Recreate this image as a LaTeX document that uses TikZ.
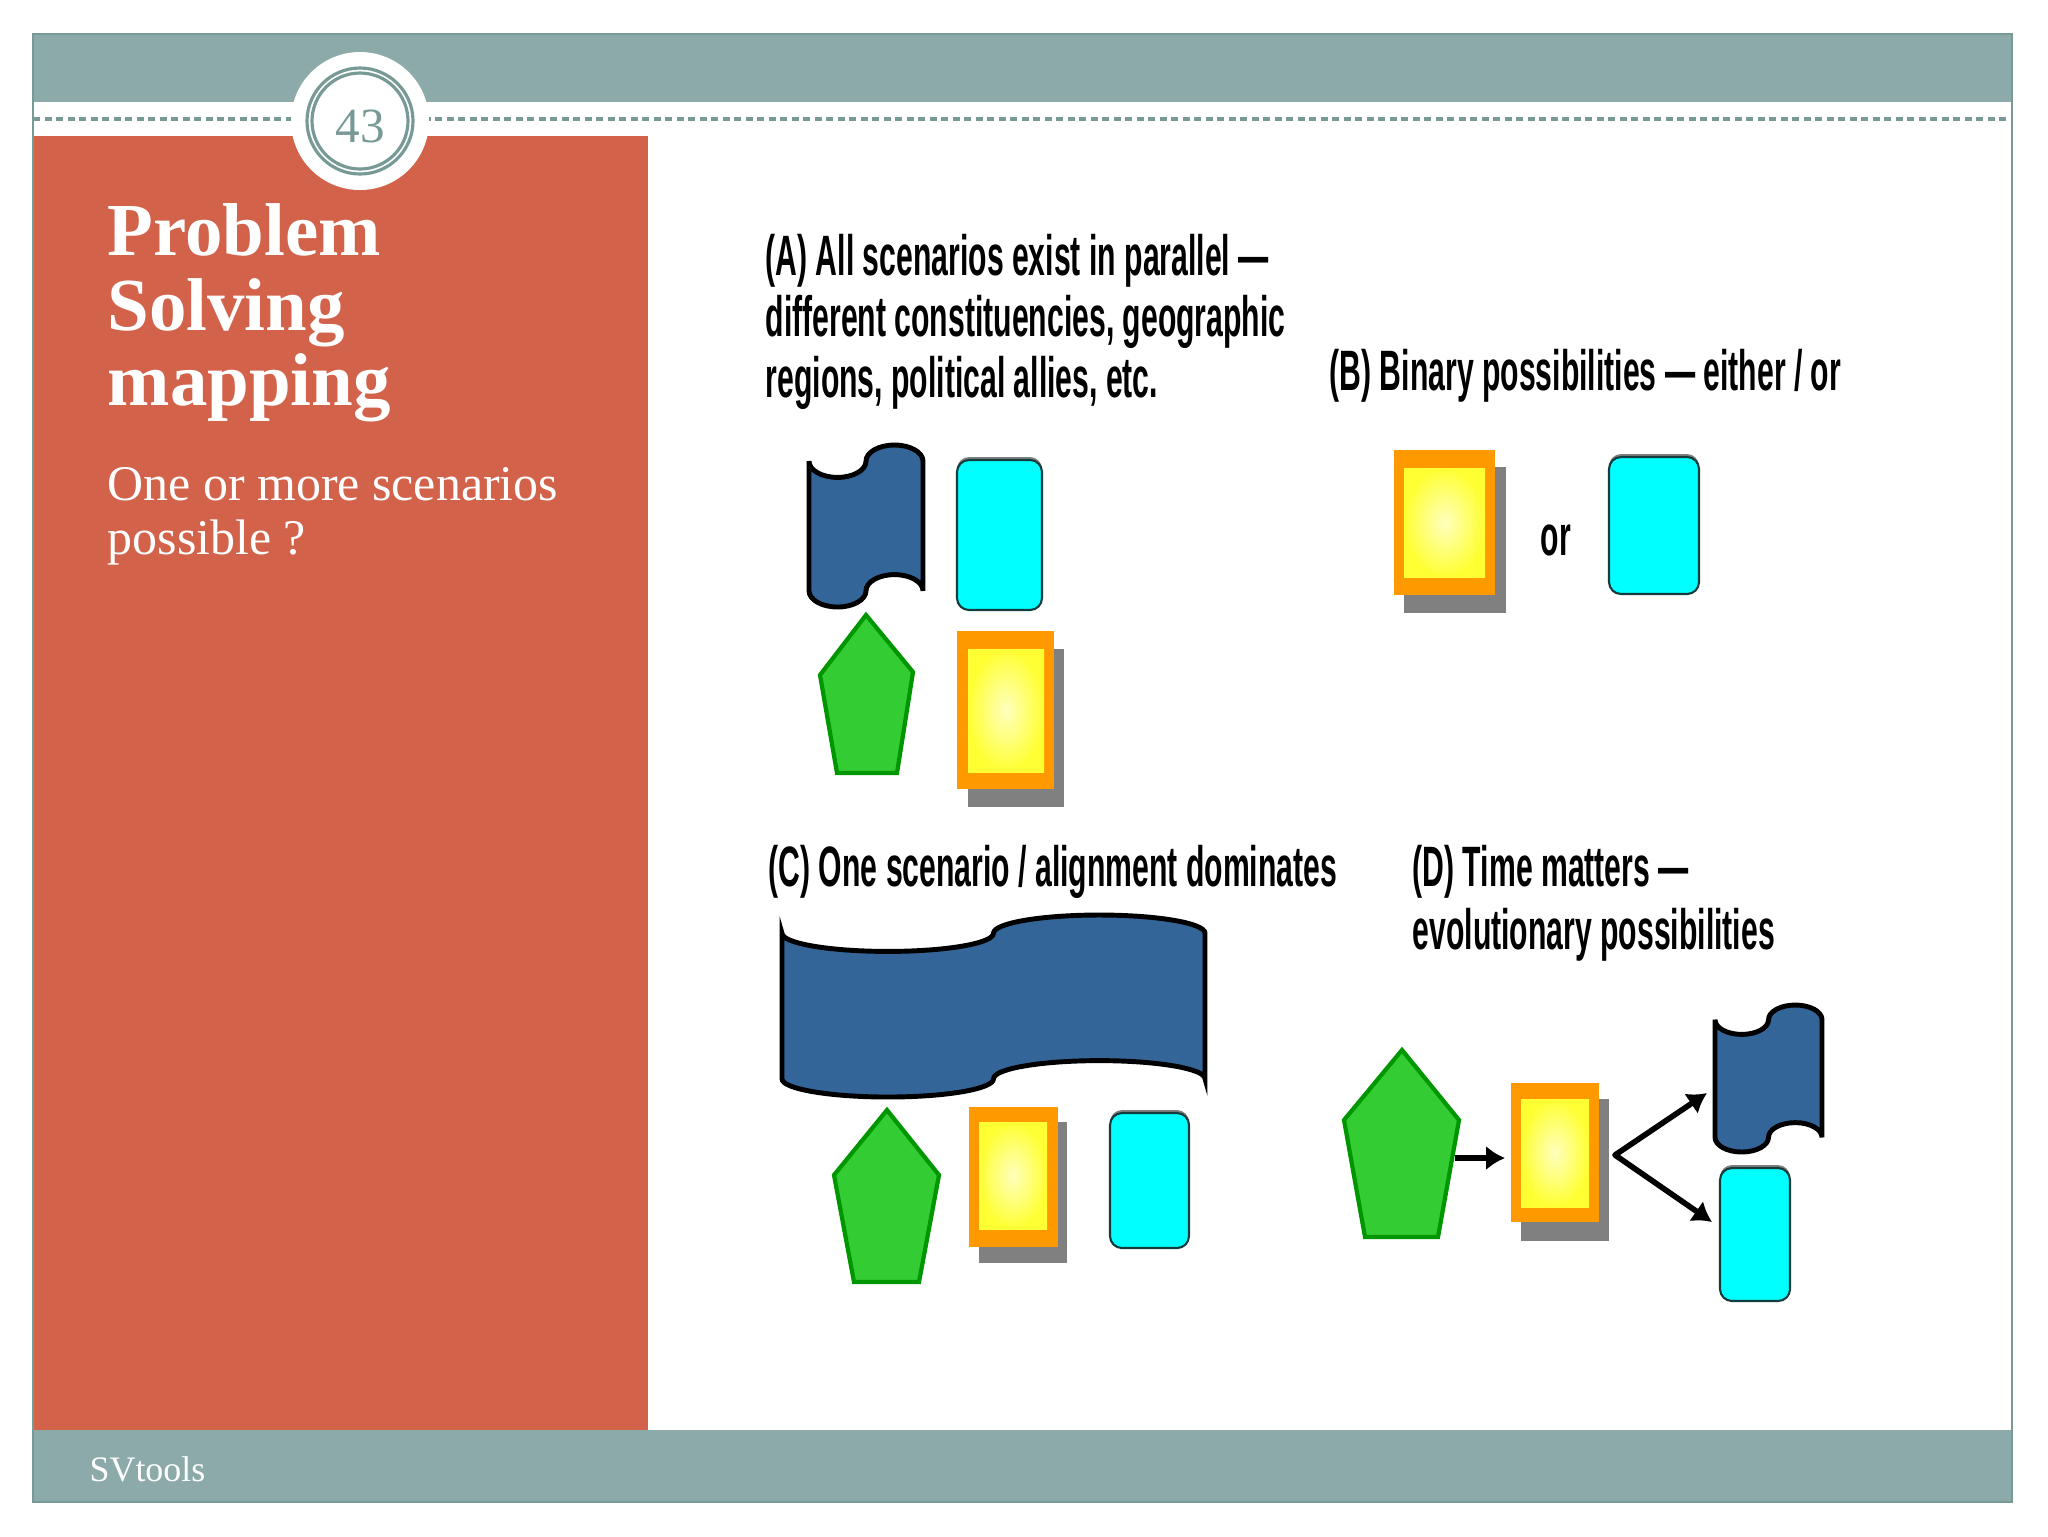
\documentclass[tikz,border=0pt]{standalone}
\RequirePackage{fontspec}
\RequirePackage{tikz}
\usetikzlibrary{calc}
\usetikzlibrary{arrows.meta}

\setmainfont{Liberation Serif}
\newfontfamily\figfont[FakeStretch=0.53]{Liberation Sans}

\definecolor{bandteal}{RGB}{141,170,170}
\definecolor{frameteal}{RGB}{120,154,151}
\definecolor{panelred}{RGB}{211,98,74}
\definecolor{flagblue}{RGB}{52,101,153}
\definecolor{tilecyan}{RGB}{0,255,255}
\definecolor{tileedge}{RGB}{20,60,60}
\definecolor{boxorange}{RGB}{255,153,0}
\definecolor{boxyellow}{RGB}{255,255,51}
\definecolor{boxlight}{RGB}{255,255,190}
\definecolor{pentgreen}{RGB}{51,204,51}
\definecolor{pentedge}{RGB}{0,150,0}
\definecolor{shadowgray}{RGB}{128,128,128}

\begin{document}
\begin{tikzpicture}[x=0.1mm,y=-0.1mm,
        frameline/.style={draw=frameteal,line width=0.6pt},
        dashline/.style={draw=frameteal,line width=1pt,dash pattern=on 0.7mm off 0.45mm},
        ring/.style={draw=frameteal,line width=0.9pt},
        title/.style={anchor=base west,inner sep=0pt,text=white,font=\bfseries\fontsize{21.3}{24}\selectfont},
        subtitle/.style={anchor=base west,inner sep=0pt,text=white,font=\fontsize{14.2}{17}\selectfont},
        caption/.style={anchor=base west,inner sep=0pt,font=\figfont\bfseries\fontsize{16.2}{18}\selectfont},
        flag/.style={draw=black,line width=1.4pt,fill=flagblue},
        tile/.style={draw=tileedge,line width=0.6pt,fill=tilecyan,rounded corners=1.2mm},
        tileshadow/.style={fill=shadowgray,rounded corners=1.2mm},
        pent/.style={draw=pentedge,line width=1.2pt,fill=pentgreen,line join=miter},
        boxshadow/.style={fill=shadowgray},
        boxframe/.style={fill=boxorange},
        boxcore/.style={inner color=boxlight,outer color=boxyellow},
        arr/.style={draw=black,line width=1.6pt,line join=round}]

                \useasboundingbox (0,0) rectangle (2048,1536);
                \fill[white] (0,0) rectangle (2048,1536);

                \fill[bandteal] (33,34) rectangle (2012,102);
                \fill[panelred] (33,136) rectangle (648,1430);
                \fill[bandteal] (33,1430) rectangle (2012,1502);
                \draw[frameline] (33,34) rectangle (2012,1502);
                \draw[dashline] (33,119) -- (2012,119);

                \fill[white] (360,121) circle (6.9mm);
                \draw[ring] (360,121) circle (5.3mm);
                \draw[ring] (360,121) circle (4.8mm);
                \node[text=frameteal,font=\fontsize{14}{16}\selectfont] (num) at (360,126) {43};

                \node[title] (T1) at (107,255) {Problem};
                \node[title] (T2) at (107,330) {Solving};
                \node[title] (T3) at (107,405) {mapping};
                \node[subtitle] (S1) at (107,500) {One or more scenarios};
                \node[subtitle] (S2) at (107,554) {possible ?};
                \node[anchor=base west,inner sep=0pt,text=white,font=\fontsize{10.2}{12}\selectfont] (foot) at (89,1481) {SVtools};

                \node[caption] (A1) at (765,275) {(A) All scenarios exist in parallel —};
                \node[caption] (A2) at (765,336) {different constituencies, geographic};
                \node[caption] (A3) at (765,397) {regions, political allies, etc.};
                \node[caption] (B1) at (1329,390) {(B) Binary possibilities — either / or};
                \node[caption] (C1) at (768,886) {(C) One scenario / alignment dominates};
                \node[caption] (D1) at (1412,886) {(D) Time matters —};
                \node[caption] (D2) at (1412,949) {evolutionary possibilities};
                \node[caption] (or) at (1540,555) {or};

                \draw[flag] (809,461.2) arc[start angle=180,end angle=0,x radius=28.5,y radius=16.2]
                    arc[start angle=180,end angle=360,x radius=28.5,y radius=16.2] -- (923,590.8)
                    arc[start angle=0,end angle=-180,x radius=28.5,y radius=16.2]
                    arc[start angle=0,end angle=180,x radius=28.5,y radius=16.2] -- cycle;
                \draw[flag] (782,933.2) arc[start angle=180,end angle=0,x radius=105.75,y radius=18.2]
                    arc[start angle=180,end angle=360,x radius=105.75,y radius=18.2] -- (1205,1078.8)
                    arc[start angle=0,end angle=-180,x radius=105.75,y radius=18.2]
                    arc[start angle=0,end angle=180,x radius=105.75,y radius=18.2] -- cycle;
                \draw[flag] (1715,1019.7) arc[start angle=180,end angle=0,x radius=26.75,y radius=14.7]
                    arc[start angle=180,end angle=360,x radius=26.75,y radius=14.7] -- (1822,1137.3)
                    arc[start angle=0,end angle=-180,x radius=26.75,y radius=14.7]
                    arc[start angle=0,end angle=180,x radius=26.75,y radius=14.7] -- cycle;

                \fill[tileshadow] (957,457) rectangle (1042,607);
                \draw[tile] (957,460) rectangle (1042,610);
                \fill[tileshadow] (1609,454) rectangle (1699,591);
                \draw[tile] (1609,457) rectangle (1699,594);
                \fill[tileshadow] (1110,1110) rectangle (1189,1245);
                \draw[tile] (1110,1113) rectangle (1189,1248);
                \fill[tileshadow] (1720,1165) rectangle (1790,1298);
                \draw[tile] (1720,1168) rectangle (1790,1301);

                \fill[boxshadow] (968,649) rectangle (1064,807);
                \fill[boxframe] (957,631) rectangle (1054,789);
                \shade[boxcore] (968,649) rectangle (1044,772);
                \fill[boxshadow] (1404,467) rectangle (1506,613);
                \fill[boxframe] (1394,450) rectangle (1495,595);
                \shade[boxcore] (1404,468) rectangle (1485,577);
                \fill[boxshadow] (979,1122) rectangle (1067,1263);
                \fill[boxframe] (969,1107) rectangle (1058,1247);
                \shade[boxcore] (979,1122) rectangle (1047,1229);
                \fill[boxshadow] (1521,1099) rectangle (1609,1241);
                \fill[boxframe] (1511,1083) rectangle (1599,1222);
                \shade[boxcore] (1521,1099) rectangle (1589,1207);

                \draw[pent] (866,615) -- (913,672) -- (897,773) -- (837,773) -- (820,675) -- cycle;
                \draw[pent] (887,1110) -- (939,1175) -- (919,1282) -- (854,1282) -- (834,1175) -- cycle;
                \draw[pent] (1402,1050) -- (1459,1120) -- (1438,1237) -- (1365,1237) -- (1344,1120) -- cycle;

                \coordinate (E1) at (1455,1158);
                \coordinate (E2) at (1505,1158);
                \coordinate (V) at (1615,1155);
                \coordinate (U) at (1707,1093);
                \coordinate (W) at (1712,1222);

                \draw[arr,-{Latex[length=5.4pt,width=7pt]}] (E1) -- (E2);
                \draw[arr,{Latex[length=5.4pt,width=7pt]}-{Latex[length=5.4pt,width=7pt]}] (U) -- (V) -- (W);
            \end{tikzpicture}
\end{document}
